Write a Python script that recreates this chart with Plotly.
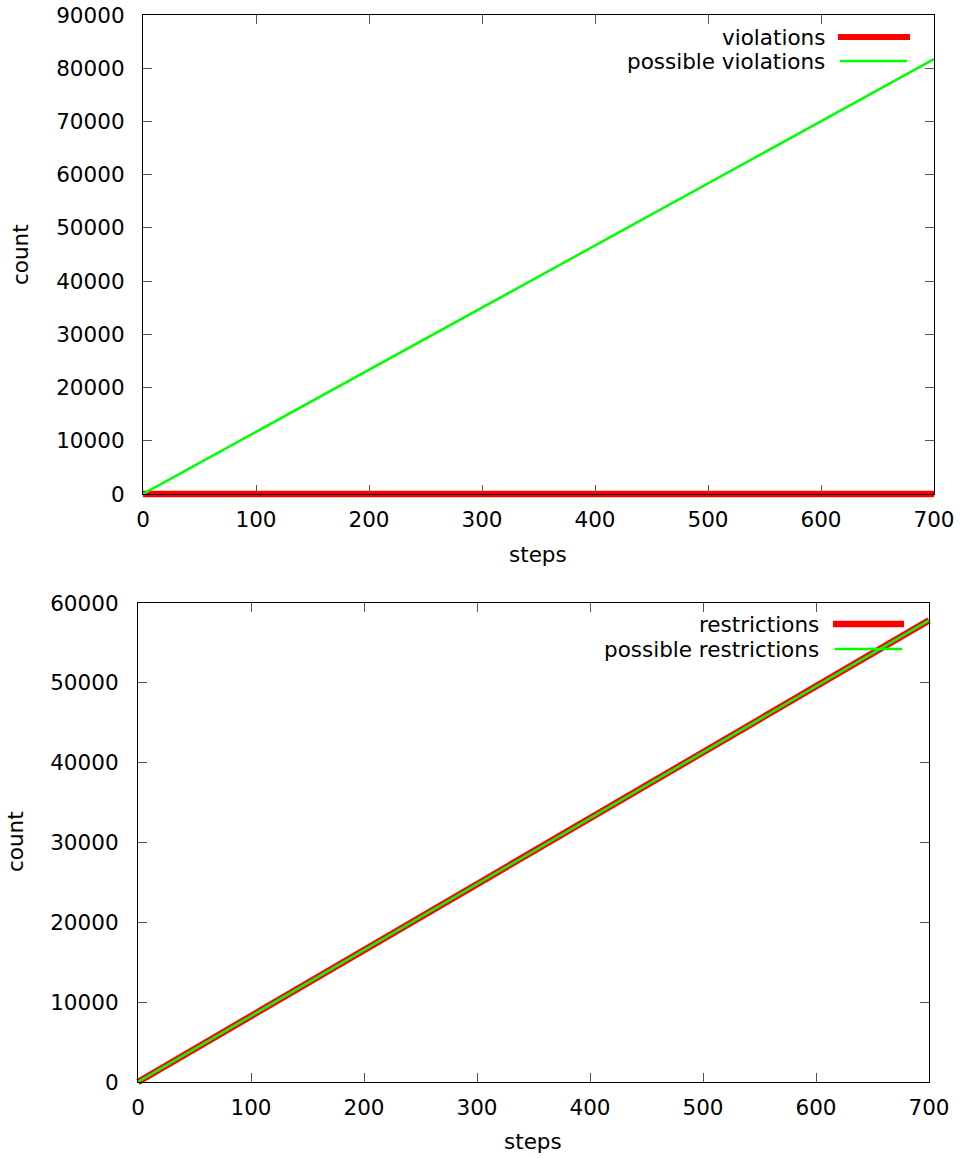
import plotly.graph_objects as go

W, H = 963, 1158

# ---- data ----
steps = [0, 100, 200, 300, 400, 500, 600, 700]
violations = [0, 0, 0, 0, 0, 0, 0, 0]
possible_violations = [0, 11670, 23340, 35010, 46690, 58360, 70030, 81700]
restrictions = [0, 8260, 16520, 24780, 33040, 41300, 49560, 57820]
possible_restrictions = [0, 8260, 16520, 24780, 33040, 41300, 49560, 57820]

x_ticks = [0, 100, 200, 300, 400, 500, 600, 700]
y_ticks_top = [0, 10000, 20000, 30000, 40000, 50000, 60000, 70000, 80000, 90000]
y_ticks_bot = [0, 10000, 20000, 30000, 40000, 50000, 60000]

X_RANGE = [0, 700]
Y_RANGE_TOP = [0, 90000]
Y_RANGE_BOT = [0, 60000]

RED = "#ff0000"
GREEN = "#00ff00"
FONT = "DejaVu Sans"
FS = 21.5


def px_x(p):
    return p / W


def px_y(p):
    return 1 - p / H


# plot-area boxes in pixels (left, right, top, bottom)
TOP_BOX = (143, 934, 15, 494)
BOT_BOX = (138, 929, 603, 1082)
EXT = 8  # px of extra room so thick lines are not clipped at the frame


def hidden_axes(box, xr, yr):
    l, r, t, b = box
    dx = (xr[1] - xr[0]) / (r - l) * EXT
    dy = (yr[1] - yr[0]) / (b - t) * EXT
    xa = dict(domain=[px_x(l - EXT), px_x(r + EXT)], range=[xr[0] - dx, xr[1] + dx],
              visible=False, showgrid=False, zeroline=False)
    ya = dict(domain=[px_y(b + EXT), px_y(t - EXT)], range=[yr[0] - dy, yr[1] + dy],
              visible=False, showgrid=False, zeroline=False)
    return xa, ya


fig = go.Figure()

# red series drawn on hidden, slightly larger subplots (drawn first, underneath)
fig.add_trace(go.Scatter(x=steps, y=violations, mode="lines", name="violations",
                         line=dict(color=RED, width=6.5),
                         xaxis="x", yaxis="y", showlegend=False))
fig.add_trace(go.Scatter(x=steps, y=restrictions, mode="lines", name="restrictions",
                         line=dict(color=RED, width=6.5),
                         xaxis="x2", yaxis="y2", showlegend=False))
# green series on the visible axes
fig.add_trace(go.Scatter(x=steps, y=possible_violations, mode="lines", name="possible violations",
                         line=dict(color=GREEN, width=2.5),
                         xaxis="x3", yaxis="y3", showlegend=False))
fig.add_trace(go.Scatter(x=steps, y=possible_restrictions, mode="lines", name="possible restrictions",
                         line=dict(color=GREEN, width=2.5),
                         xaxis="x4", yaxis="y4", showlegend=False))

axis_common = dict(
    showline=True, linecolor="black", linewidth=1.2, mirror="allticks",
    ticks="inside", ticklen=9, tickwidth=1, tickcolor="#555",
    showgrid=False, zeroline=False, automargin=False,
    ticklabeloverflow="allow",
    tickfont=dict(family=FONT, size=FS, color="black"),
)

hx1, hy1 = hidden_axes(TOP_BOX, X_RANGE, Y_RANGE_TOP)
hx2, hy2 = hidden_axes(BOT_BOX, X_RANGE, Y_RANGE_BOT)

fig.update_layout(
    width=W, height=H,
    margin=dict(l=0, r=0, t=0, b=0),
    paper_bgcolor="white", plot_bgcolor="rgba(0,0,0,0)",
    template="none",
    showlegend=False,
    xaxis=dict(anchor="y", **hx1),
    yaxis=dict(anchor="x", **hy1),
    xaxis2=dict(anchor="y2", **hx2),
    yaxis2=dict(anchor="x2", **hy2),
    xaxis3=dict(domain=[px_x(TOP_BOX[0]), px_x(TOP_BOX[1])], range=X_RANGE, tickvals=x_ticks,
                ticktext=[str(v) for v in x_ticks], ticklabelstandoff=6,
                anchor="y3", **axis_common),
    yaxis3=dict(domain=[px_y(TOP_BOX[3]), px_y(TOP_BOX[2])], range=Y_RANGE_TOP, tickvals=y_ticks_top,
                ticktext=[str(v) for v in y_ticks_top],
                anchor="x3", ticklabelstandoff=13, **axis_common),
    xaxis4=dict(domain=[px_x(BOT_BOX[0]), px_x(BOT_BOX[1])], range=X_RANGE, tickvals=x_ticks,
                ticktext=[str(v) for v in x_ticks], ticklabelstandoff=6,
                anchor="y4", **axis_common),
    yaxis4=dict(domain=[px_y(BOT_BOX[3]), px_y(BOT_BOX[2])], range=Y_RANGE_BOT, tickvals=y_ticks_bot,
                ticktext=[str(v) for v in y_ticks_bot],
                anchor="x4", ticklabelstandoff=14, **axis_common),
)

ann = []
shapes = []
# axis titles
for txt, x, y, ang in [("count", 20, 255, -90), ("steps", 538, 555, 0),
                       ("count", 15, 842, -90), ("steps", 533, 1141, 0)]:
    ann.append(dict(text=txt, x=px_x(x), y=px_y(y), xref="paper", yref="paper",
                    showarrow=False, textangle=ang, xanchor="center", yanchor="middle",
                    font=dict(family=FONT, size=FS, color="black")))

# legends (gnuplot style: text right-aligned, sample to the right)
legend_items = [
    ("violations", 827, 37, 838, 910, RED, 6),
    ("possible violations", 827, 61, 840, 907, GREEN, 2.5),
    ("restrictions", 821, 624, 833, 904, RED, 6.5),
    ("possible restrictions", 821, 649, 835, 902, GREEN, 2.5),
]
for txt, tx, ty, x0, x1, col, w in legend_items:
    ann.append(dict(text=txt, x=px_x(tx), y=px_y(ty), xref="paper", yref="paper",
                    showarrow=False, xanchor="right", yanchor="middle",
                    font=dict(family=FONT, size=FS, color="black")))
    shapes.append(dict(type="line", xref="paper", yref="paper",
                       x0=px_x(x0), x1=px_x(x1), y0=px_y(ty), y1=px_y(ty),
                       line=dict(color=col, width=w)))

fig.update_layout(annotations=ann, shapes=shapes)

fig.write_html("out.html",
               config={"displayModeBar": False},
               post_script="document.body.style.margin='0';document.body.style.overflow='hidden';")
